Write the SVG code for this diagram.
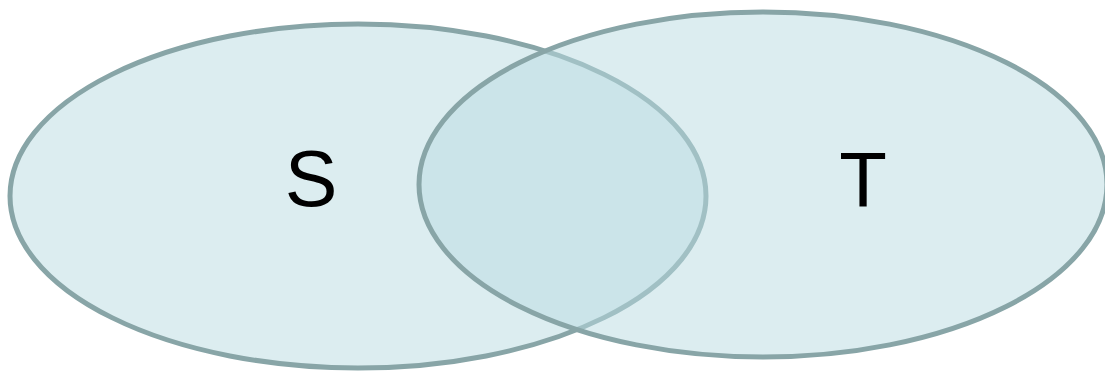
<svg xmlns="http://www.w3.org/2000/svg" width="1105" height="371" viewBox="0 0 1105 371">
<style>
.set{fill:#B9DBE1;fill-opacity:0.5;stroke:#88A5A7;stroke-width:5}
.lbl{font-family:"Liberation Sans",Arial,sans-serif;fill:#000;text-anchor:middle}
</style>
<rect width="1105" height="371" fill="#fff"/>
<g id="S">
<ellipse class="set" cx="358" cy="196" rx="348" ry="172"/>
<text class="lbl" x="311" y="206" font-size="79">S</text>
</g>
<g id="T">
<ellipse class="set" cx="763" cy="184.5" rx="344" ry="172.5"/>
<text class="lbl" x="863" y="207" font-size="78">T</text>
</g>
<g id="connectors"></g>
</svg>
